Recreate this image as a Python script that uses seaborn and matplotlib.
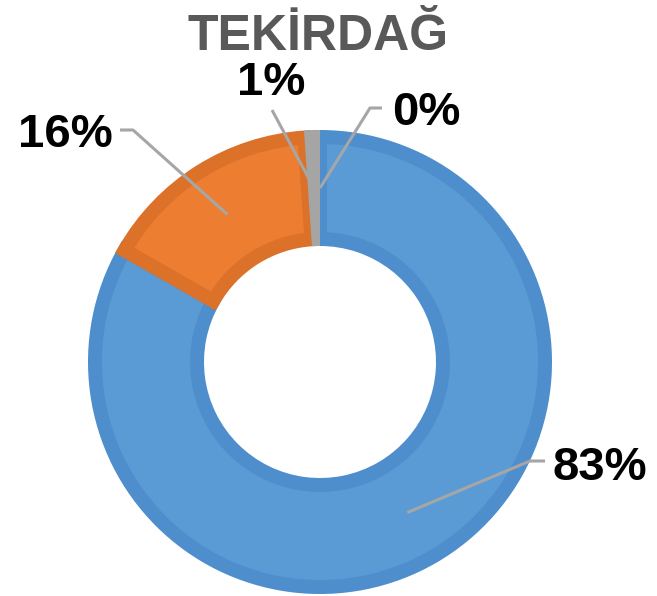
import numpy as np
import seaborn as sns
import matplotlib.pyplot as plt

# data
categories = ['A', 'B', 'C', 'D']
shares = [83.1, 15.6, 1.1, 0.0]
fills = ['#5B9BD5', '#ED7D31', '#A5A5A5', '#FFC000']
edges = ['#4E8ECD', '#DC7129', '#A5A5A5', '#FFC000']
title = 'TEKİRDAĞ'

sns.set_theme(style='white')
plt.rcParams['font.family'] = ['Liberation Sans', 'DejaVu Sans']

fig = plt.figure(figsize=(6.57, 5.96), dpi=100)
ax = fig.add_axes([0, 0, 1, 1])

cx, cy = 320, 362
r_out, r_in = 232, 116
band = 7  # darker border inside each slice, px
lw = 2 * band * 72 / 100

# y axis is flipped (pixel-like coords), so counterclock here reads clockwise
wedges, _ = ax.pie(shares, colors=fills, startangle=-90, counterclock=True,
                   center=(cx, cy), radius=r_out - band,
                   wedgeprops=dict(width=r_out - r_in - 2 * band, linewidth=lw))
for w, ec, v in zip(wedges, edges, shares):
    w.set_edgecolor(ec)
    if v < 5:
        # thin slices: no border, full ring size
        w.set_linewidth(0)
        w.set_radius(r_out)
        w.set_width(r_out - r_in)

ax.set_xlim(0, 657)
ax.set_ylim(596, 0)
ax.set_aspect('equal', adjustable='box')
ax.axis('off')

# labels with leader lines
fr = np.array(shares) / sum(shares)
mids = -90 + 360 * (np.cumsum(fr) - fr / 2)
r_mid = (r_out + r_in) / 2
label_pos = [(553, 480, 'left'), (65, 147, 'center'), (271, 95, 'center'), (426, 125, 'center')]
leader = [[(530, 461), (545, 461)], [(133, 130), (120, 130)], [(272, 110)], [(370, 108), (382, 108)]]
for v, m, (tx, ty, ha), pts in zip(shares, mids, label_pos, leader):
    ax0 = cx + r_mid * np.cos(np.radians(m))
    ay0 = cy + r_mid * np.sin(np.radians(m))
    xs = [ax0] + [p[0] for p in pts]
    ys = [ay0] + [p[1] for p in pts]
    ax.plot(xs, ys, color='#A6A6A6', lw=2.2, solid_capstyle='butt')
    ax.text(tx, ty, f'{round(v)}%', ha=ha, va='baseline', fontsize=34,
            fontweight='bold', color='black')

ax.text(318, 50, title, ha='center', va='baseline', fontsize=36,
        fontweight='bold', color='#595959')

fig.savefig('out.png', dpi=100)
